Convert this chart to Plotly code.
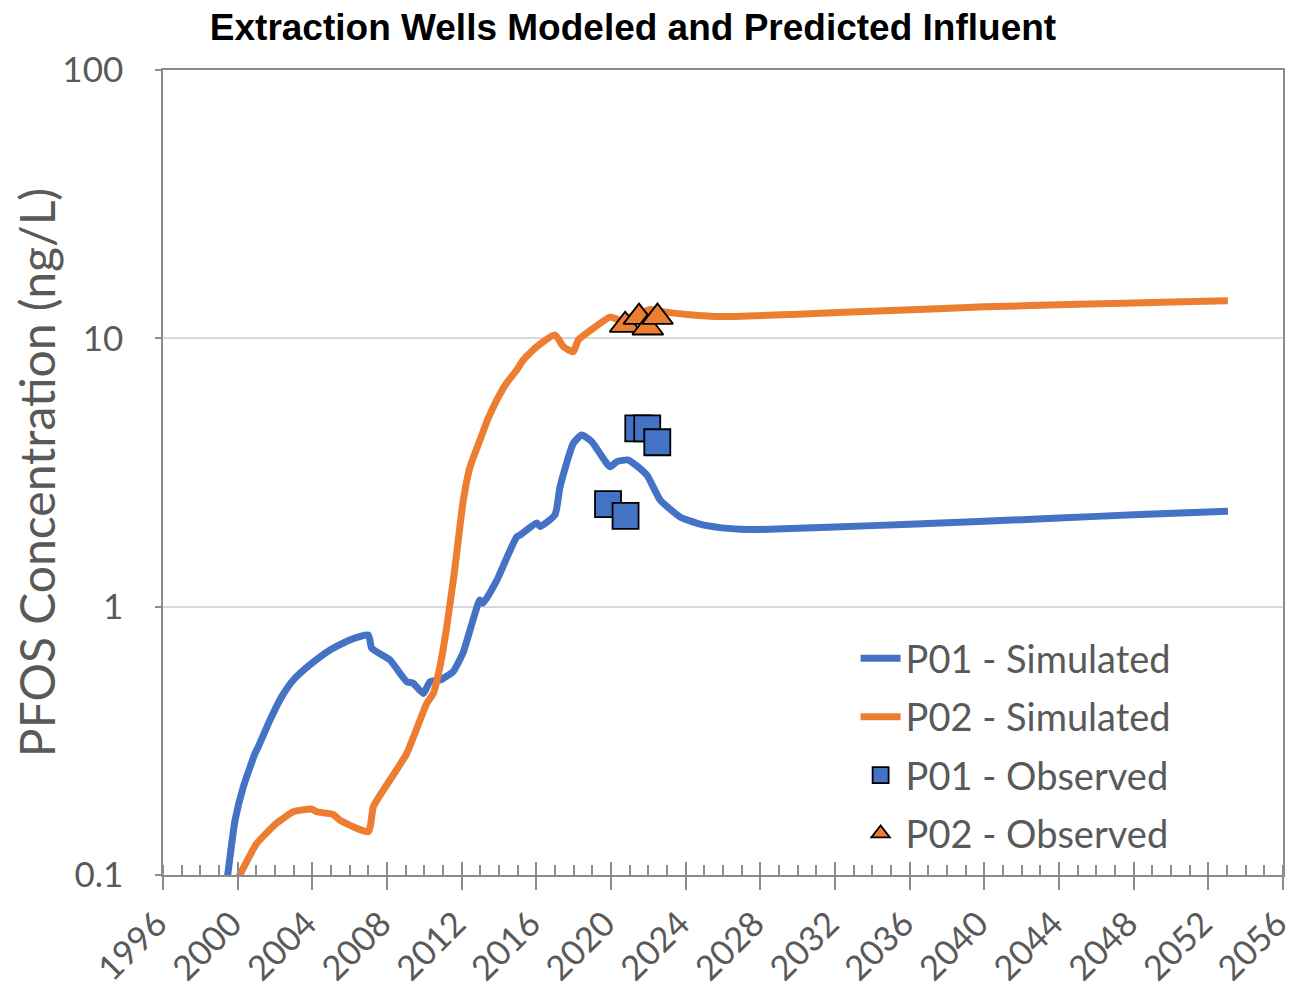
import plotly.graph_objects as go

# ---- data ----
p01_sim_year = [1999.45, 1999.86, 2000.30, 2000.93, 2001.11, 2001.73, 2002.36, 2002.98, 2003.97, 2004.95,
                2006.02, 2007.0, 2007.18, 2008.16, 2009.06, 2009.39, 2009.95, 2010.30, 2010.84, 2011.54,
                2012.07, 2012.98, 2013.14, 2013.89, 2014.05, 2014.95, 2015.13, 2016.02, 2016.20, 2017.0,
                2017.27, 2017.98, 2018.43, 2018.97, 2019.95, 2020.31, 2020.93, 2021.91, 2022.63, 2023.70,
                2024.77, 2025.84, 2026.9, 2028.0, 2032.0, 2036.0, 2040.0, 2044.0, 2048.0, 2053.05]
p01_sim_val = [0.098, 0.160, 0.213, 0.284, 0.301, 0.378, 0.462, 0.533, 0.615, 0.690,
               0.752, 0.784, 0.700, 0.633, 0.525, 0.519, 0.475, 0.525, 0.533, 0.573,
               0.672, 1.06, 1.03, 1.256, 1.33, 1.82, 1.85, 2.05, 1.99, 2.20,
               2.80, 4.06, 4.36, 4.12, 3.32, 3.47, 3.52, 3.10, 2.50, 2.16,
               2.03, 1.97, 1.945, 1.94, 1.98, 2.03, 2.08, 2.14, 2.20, 2.27]

p02_sim_year = [2000.05, 2001.02, 2002.09, 2002.98, 2003.97, 2004.23, 2005.12, 2005.48, 2007.0, 2007.27,
                2007.80, 2008.16, 2009.06, 2010.13, 2010.48, 2010.84, 2011.20, 2011.60, 2012.09, 2012.45,
                2012.98, 2013.40, 2013.88, 2014.40, 2014.95, 2015.30, 2016.02, 2017.0, 2017.45, 2017.98,
                2018.25, 2019.05, 2019.95, 2020.48, 2022.09, 2022.63, 2024.2, 2025.84, 2030.0, 2035.0,
                2040.0, 2045.0, 2050.0, 2053.05]
p02_sim_val = [0.098, 0.131, 0.156, 0.172, 0.176, 0.172, 0.168, 0.160, 0.145, 0.180,
               0.207, 0.226, 0.284, 0.436, 0.475, 0.60, 0.841, 1.33, 2.50, 3.32,
               4.18, 5.0, 5.89, 6.8, 7.62, 8.30, 9.31, 10.3, 9.31, 8.92,
               9.86, 10.9, 12.0, 11.7, 12.8, 12.6, 12.25, 12.05, 12.3, 12.7,
               13.1, 13.4, 13.65, 13.8]

p01_obs_year = [2019.84, 2020.78, 2021.46, 2021.94, 2022.48]
p01_obs_val = [2.41, 2.18, 4.62, 4.62, 4.10]

p02_obs_year = [2020.76, 2021.50, 2021.97, 2022.49]
p02_obs_val = [11.2, 12.0, 10.95, 12.0]

y_tick_vals = [0.1, 1, 10, 100]
y_tick_text = ["0.1", "1", "10", "100"]

title_text = "Extraction Wells Modeled and Predicted Influent"
y_title = "PFOS Concentration (ng/L)"

BLUE = "#4472C4"
ORANGE = "#ED7D31"
GREY_TXT = "#595959"
AXIS = "#8C8C8C"
FONT = "Lato"

fig = go.Figure()
fig.add_trace(go.Scatter(x=p01_sim_year, y=p01_sim_val, mode="lines", name="P01 - Simulated",
                         line=dict(color=BLUE, width=7, shape="spline", smoothing=0.5), legendgroup="a"))
fig.add_trace(go.Scatter(x=p02_sim_year, y=p02_sim_val, mode="lines", name="P02 - Simulated",
                         line=dict(color=ORANGE, width=7, shape="spline", smoothing=0.5), legendgroup="b"))
fig.add_trace(go.Scatter(x=p01_obs_year, y=p01_obs_val, mode="markers", name="P01 - Observed",
                         marker=dict(symbol="square", size=26, color=BLUE, line=dict(color="black", width=1.8)),
                         legendgroup="c"))
fig.add_trace(go.Scatter(x=p02_obs_year, y=p02_obs_val, mode="markers", name="P02 - Observed",
                         marker=dict(symbol="triangle-up", size=27, color=ORANGE, line=dict(color="black", width=1.8)),
                         legendgroup="d"))

# the page body has an 8px default margin, so the figure is 8px smaller than the window
fig.update_layout(
    width=1286, height=983,
    margin=dict(l=155, r=11, t=62, b=116, autoexpand=False),
    paper_bgcolor="white", plot_bgcolor="white",
    title=dict(text="<b>" + title_text + "</b>", x=0.486, xanchor="center", y=0.981, yanchor="middle",
               font=dict(family="Liberation Sans, Arial", size=37, color="black"), automargin=False),
    xaxis=dict(range=[1995.999, 2056.001], tick0=1996, dtick=4, tickangle=-45, automargin=False,
               showline=True, linecolor=AXIS, linewidth=1.5, mirror=True, ticklabeloverflow="allow",
               ticklabelshift=-6,
               ticks="outside", ticklen=13, tickwidth=1.5, tickcolor=AXIS,
               minor=dict(ticks="inside", ticklen=10, dtick=1, tick0=1996, tickcolor=AXIS, tickwidth=1.5, showgrid=False),
               showgrid=False, zeroline=False,
               tickfont=dict(family=FONT, size=34.5, color=GREY_TXT)),
    xaxis2=dict(range=[1995.999, 2056.001], overlaying="x", anchor="y", side="bottom", tick0=1996, dtick=4,
                ticks="inside", ticklen=13, tickwidth=1.5, tickcolor=AXIS, showticklabels=False,
                showgrid=False, showline=False, zeroline=False, automargin=False),
    yaxis=dict(type="log", range=[-1, 2], tickvals=y_tick_vals, ticktext=y_tick_text, automargin=False,
               showline=True, linecolor=AXIS, linewidth=1.5, mirror=True,
               ticks="outside", ticklen=6, tickwidth=1.5, tickcolor=AXIS, ticklabelstandoff=25,
               showgrid=True, gridcolor="#D9D9D9", gridwidth=1.5, zeroline=False,
               tickfont=dict(family=FONT, size=35, color=GREY_TXT),
               title=dict(text=y_title, font=dict(family=FONT, size=48, color=GREY_TXT), standoff=0)),
    legend=dict(x=0.6184, xanchor="left", y=0.308, yanchor="top", bgcolor="rgba(0,0,0,0)",
                font=dict(family=FONT, size=38, color=GREY_TXT), tracegroupgap=6,
                traceorder="grouped", itemwidth=40),
    showlegend=True,
)
# invisible trace to realise xaxis2
fig.add_trace(go.Scatter(x=[2000], y=[1], xaxis="x2", mode="markers", marker=dict(opacity=0),
                         showlegend=False, hoverinfo="skip"))

fig.write_html("out.html")
